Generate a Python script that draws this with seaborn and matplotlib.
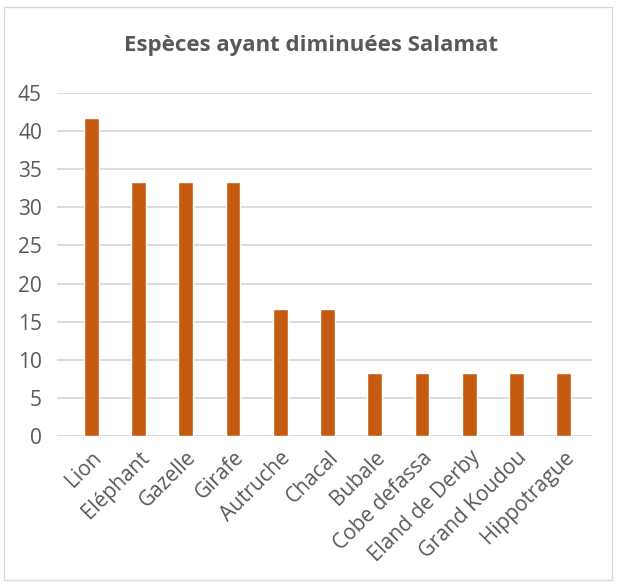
import pandas as pd
import seaborn as sns
import matplotlib.pyplot as plt
from matplotlib.patches import Rectangle

# Données
especes = ["Lion", "Eléphant", "Gazelle", "Girafe", "Autruche", "Chacal",
           "Bubale", "Cobe defassa", "Eland de Derby", "Grand Koudou", "Hippotrague"]
valeurs = [41.67, 33.33, 33.33, 33.33, 16.67, 16.67, 8.33, 8.33, 8.33, 8.33, 8.33]
graduations = [0, 5, 10, 15, 20, 25, 30, 35, 40, 45]

df = pd.DataFrame({"espece": especes, "valeur": valeurs})

sns.set_style("white")
plt.rcParams['font.family'] = ['Open Sans', 'DejaVu Sans']

fig = plt.figure(figsize=(6.22, 5.87), dpi=100)
ax = fig.add_axes([0.092, 0.2572, 0.86, 0.5844])

sns.barplot(data=df, x="espece", y="valeur", color="#C55A11", width=0.31,
            saturation=1, ax=ax)

ax.set_ylim(0, 45)
ax.set_yticks(graduations)
ax.set_xlim(-0.72, 10.6)
ax.yaxis.grid(True, color="#D9D9D9", linewidth=1.3)
ax.set_axisbelow(True)
for s in ax.spines.values():
    s.set_visible(False)
ax.tick_params(axis="both", length=0, colors="#595959", labelsize=15)
ax.tick_params(axis="y", pad=11)
ax.tick_params(axis="x", pad=8)
plt.setp(ax.get_xticklabels(), rotation=45, ha="right", rotation_mode="anchor")
ax.set_xlabel("")
ax.set_ylabel("")

fig.text(0.5, 0.922, "Espèces ayant diminuées Salamat", ha="center", va="center",
         fontsize=16, fontweight="bold", color="#595959")

fig.patches.append(Rectangle((0.007, 0.012), 0.977, 0.976, transform=fig.transFigure,
                             fill=False, edgecolor="#D9D9D9", linewidth=1))

fig.savefig("out.png", dpi=100)
